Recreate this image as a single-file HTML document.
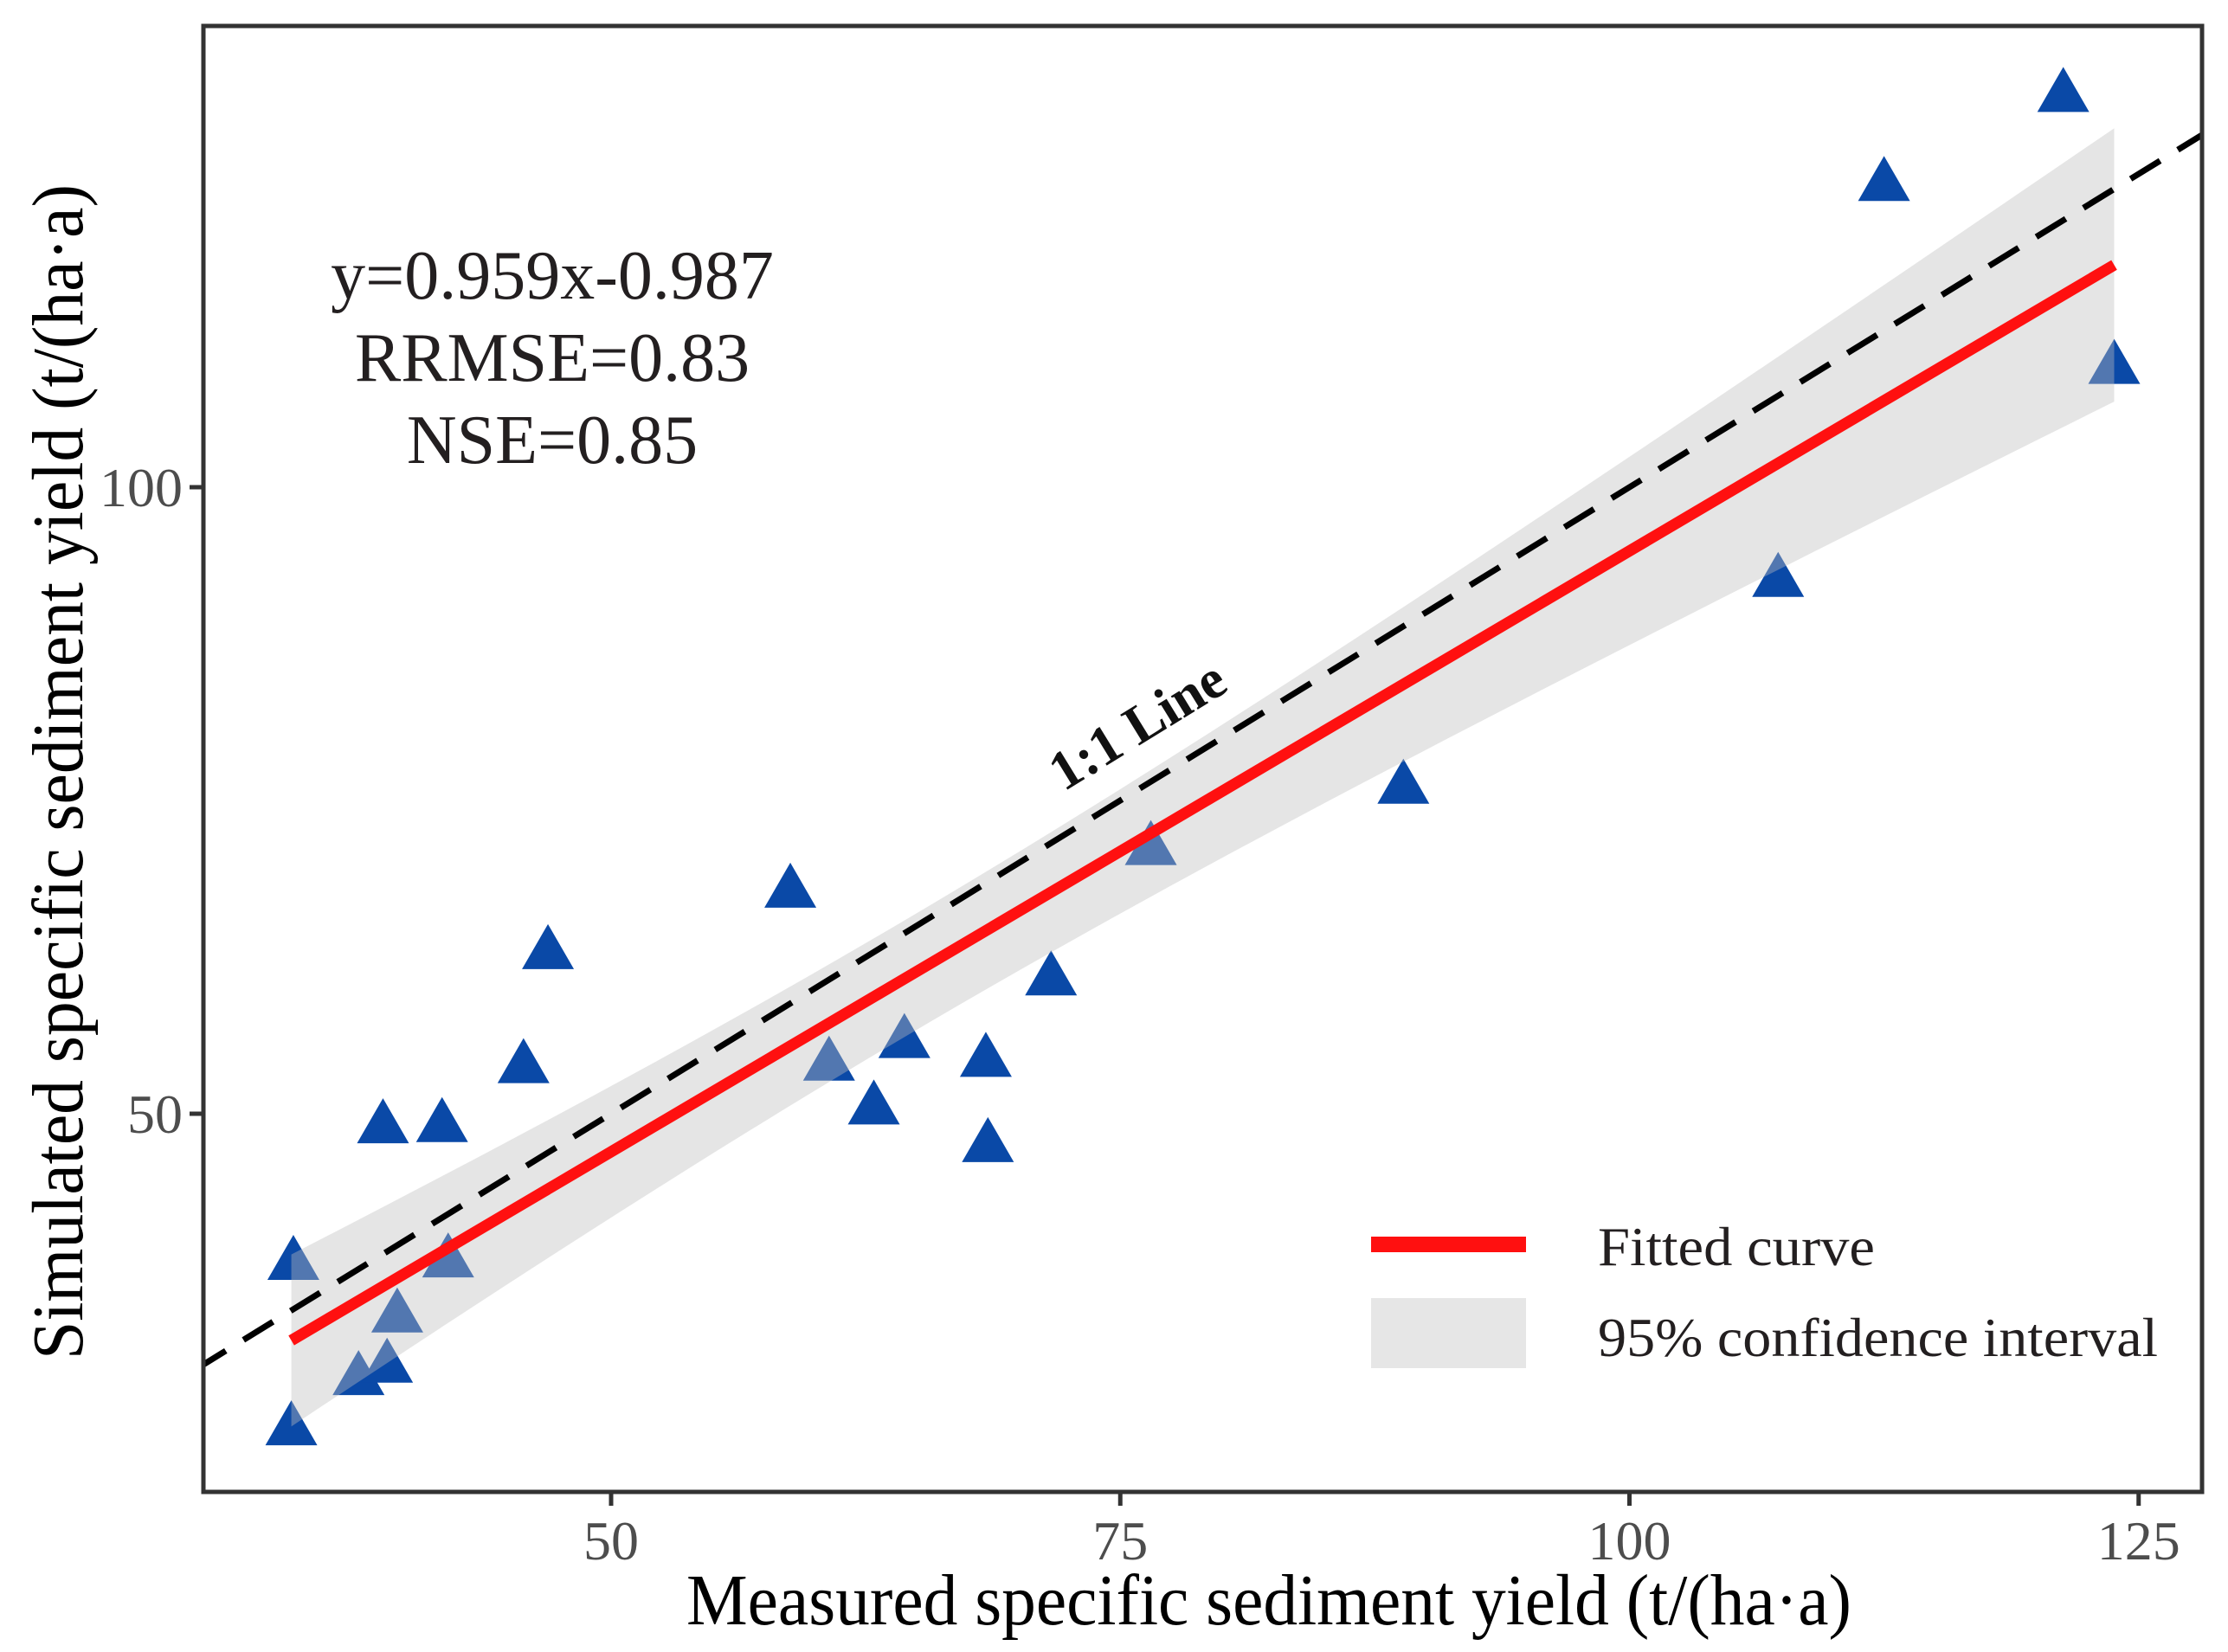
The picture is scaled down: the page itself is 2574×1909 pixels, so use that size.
<!DOCTYPE html>
<html><head><meta charset="utf-8"><style>
html,body{margin:0;padding:0;background:#fff;}
svg{display:block;font-family:"Liberation Serif",serif;}
</style></head><body>
<svg id="chart" width="2574" height="1909" viewBox="0 0 2574 1909" xmlns="http://www.w3.org/2000/svg">
<rect x="0" y="0" width="2574" height="1909" fill="#fff"/>
<g id="plot"></g>
</svg>
<script>
const measured = [34.3,34.4,37.6,39.0,39.5,38.8,41.7,42.0,45.7,46.9,58.8,60.7,62.9,64.4,68.4,68.5,71.6,76.5,88.9,107.3,112.5,121.3,123.8];
const simulated = [25.2,38.4,29.2,30.2,34.2,49.3,49.4,38.6,54.1,63.2,68.1,54.3,50.8,56.1,54.6,47.8,61.1,71.5,76.4,92.9,124.5,131.6,109.9];
const fitCoef = [0.959, -0.987];
const xTicks = [50,75,100,125];
const yTicks = [50,100];

const NS='http://www.w3.org/2000/svg';
const PL=235, PR=2544, PT=30, PB=1724;
function xs(v){return 706+(v-50)*23.53;}
function ys(v){return 1287-(v-50)*14.48;}
const g=document.getElementById('plot');
function mk(tag,attrs,parent){const e=document.createElementNS(NS,tag);for(const k in attrs)e.setAttribute(k,attrs[k]);(parent||g).appendChild(e);return e;}

const defs=mk('defs',{});
const cp=mk('clipPath',{id:'clip'},defs);
mk('rect',{x:PL,y:PT,width:PR-PL,height:PB-PT},cp);
const inner=mk('g',{'clip-path':'url(#clip)'});

for(let i=0;i<measured.length;i++){
  const cx=xs(measured[i]), cy=ys(simulated[i]);
  const p=mk('polygon',{points:`${cx-30},${cy+24} ${cx+30},${cy+24} ${cx},${cy-28}`,fill:'#0a49a7'},inner);
  
  
}

const n=measured.length;
const xbar=measured.reduce((a,b)=>a+b,0)/n;
let sxx=0, sse=0;
for(let i=0;i<n;i++){sxx+=(measured[i]-xbar)**2; const r=simulated[i]-(fitCoef[0]*measured[i]+fitCoef[1]); sse+=r*r;}
const s=Math.sqrt(sse/(n-2)), tq=2.08;
const xmin=Math.min(...measured), xmax=Math.max(...measured);
let up=[], lo=[];
for(let k=0;k<=60;k++){
  const x=xmin+(xmax-xmin)*k/60;
  const yh=fitCoef[0]*x+fitCoef[1];
  const se=tq*s*Math.sqrt(1/n+(x-xbar)**2/sxx);
  up.push(`${xs(x)},${ys(yh+se)}`); lo.unshift(`${xs(x)},${ys(yh-se)}`);
}
const band=mk('polygon',{points:up.concat(lo).join(' '),fill:'rgba(190,190,190,0.4)'},inner);



const fl=mk('line',{x1:xs(xmin),y1:ys(fitCoef[0]*xmin+fitCoef[1]),x2:xs(xmax),y2:ys(fitCoef[0]*xmax+fitCoef[1]),stroke:'#ff1010','stroke-width':13},inner);



const oo=mk('line',{x1:xs(25),y1:ys(25),x2:xs(135),y2:ys(135),stroke:'#000','stroke-width':7,'stroke-dasharray':'40 24'},inner);



const ang=Math.atan2(ys(80)-ys(70),xs(80)-xs(70))*180/Math.PI;
const lx=1325, ly=856;
const ol=mk('text',{x:lx,y:ly,'font-size':64,'font-weight':'bold','text-anchor':'middle',fill:'#111',transform:`rotate(${ang} ${lx} ${ly})`});
ol.textContent='1:1 Line';



const pb=mk('rect',{x:PL,y:PT,width:PR-PL,height:PB-PT,fill:'none',stroke:'#333','stroke-width':5});



xTicks.forEach(v=>{
  const t=mk('line',{x1:xs(v),y1:PB,x2:xs(v),y2:PB+16,stroke:'#333','stroke-width':5});
  
  
  const l=mk('text',{x:xs(v),y:PB+78,'font-size':64,'text-anchor':'middle',fill:'#4d4d4d'});
  l.textContent=v;
  
  
});
yTicks.forEach(v=>{
  const t=mk('line',{x1:PL-16,y1:ys(v),x2:PL,y2:ys(v),stroke:'#333','stroke-width':5});
  
  
  const l=mk('text',{x:PL-24,y:ys(v)+22,'font-size':64,'text-anchor':'end',fill:'#4d4d4d'});
  l.textContent=v;
  
  
});

const xt=mk('text',{x:1466,y:1877,'font-size':84,'text-anchor':'middle',fill:'#000',textLength:1346,lengthAdjust:'spacingAndGlyphs'});
xt.textContent='Measured specific sediment yield (t/(ha·a)';


const yt=mk('text',{x:0,y:0,'font-size':84,'text-anchor':'middle',fill:'#000',textLength:1358,lengthAdjust:'spacingAndGlyphs',transform:'translate(95 892) rotate(-90)'});
yt.textContent='Simulated specific sediment yield (t/(ha·a)';



[['y=0.959x-0.987',345,'equation-label'],['RRMSE=0.83',440,'rrmse-label'],['NSE=0.85',535,'nse-label']].forEach(a=>{
  const t=mk('text',{x:638,y:a[1],'font-size':80,'text-anchor':'middle',fill:'#231f20'});
  t.textContent=a[0];
  
  
});

const lg=mk('g',{});


const lr=mk('rect',{x:1584,y:1429,width:179,height:18,fill:'#ff1010'},lg);


const lb=mk('rect',{x:1584,y:1500,width:179,height:81,fill:'#e6e6e6'},lg);


const t1=mk('text',{x:1846,y:1462,'font-size':64,fill:'#231f20',textLength:320,lengthAdjust:'spacingAndGlyphs'},lg);
t1.textContent='Fitted curve';


const t2=mk('text',{x:1846,y:1567,'font-size':64,fill:'#231f20',textLength:647,lengthAdjust:'spacingAndGlyphs'},lg);
t2.textContent='95% confidence interval';


</script>
</body></html>
